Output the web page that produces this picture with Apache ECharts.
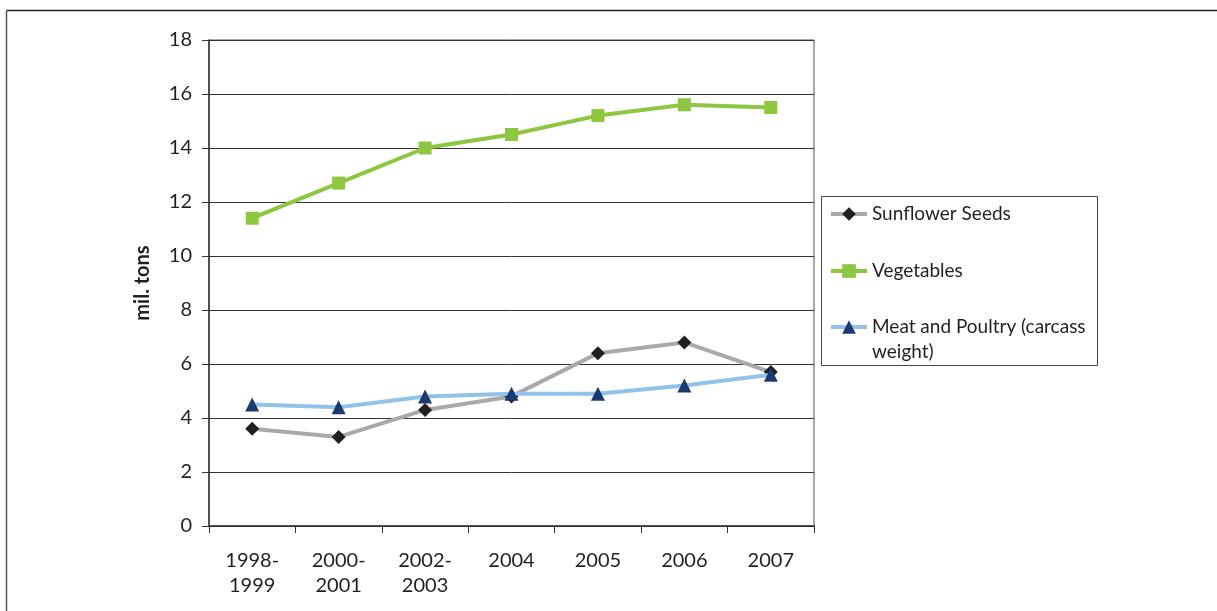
<!DOCTYPE html>
<html>
<head>
<meta charset="utf-8">
<script src="https://cdn.jsdelivr.net/npm/echarts@6/dist/echarts.min.js"></script>
<style>
html,body{margin:0;padding:0;background:#fff;}
#chart{width:1217px;height:611px;}
</style>
</head>
<body>
<div id="chart"></div>
<script>
var categories = ['1998-\n1999', '2000-\n2001', '2002-\n2003', '2004', '2005', '2006', '2007'];
var sunflowerSeeds = [3.6, 3.3, 4.3, 4.8, 6.4, 6.8, 5.7];
var vegetables = [11.4, 12.7, 14.0, 14.5, 15.2, 15.6, 15.5];
var meatPoultry = [4.5, 4.4, 4.8, 4.9, 4.9, 5.2, 5.6];
var yTicks = [0, 2, 4, 6, 8, 10, 12, 14, 16, 18];

var FONT = 'Lato';
var TXT = '#231F20';
var chart = echarts.init(document.getElementById('chart'), null, {renderer: 'canvas'});

function legendCfg(name, top) {
  return {
    data: [name], left: 829, top: top, orient: 'vertical', padding: 0,
    itemWidth: 36, itemHeight: 17, itemGap: 0, selectedMode: false,
    lineStyle: {width: 4},
    textStyle: {fontFamily: FONT, fontSize: 19, color: TXT, lineHeight: 25},
    formatter: function (n) { return n === 'Meat and Poultry (carcass weight)' ? ' \nMeat and Poultry (carcass\nweight)' : n; }
  };
}

chart.setOption({
  animation: false,
  backgroundColor: '#fff',
  grid: {left: 209, right: 403, top: 40, bottom: 85, show: true, borderColor: '#555', borderWidth: 1, backgroundColor: 'transparent'},
  graphic: [
    {type: 'line', shape: {x1: 6.5, y1: 10.5, x2: 1217, y2: 10.5}, style: {stroke: '#222', lineWidth: 1.5}},
    {type: 'line', shape: {x1: 6.5, y1: 10.5, x2: 6.5, y2: 611}, style: {stroke: '#555', lineWidth: 1.5}},
    {type: 'rect', shape: {x: 821.5, y: 196.5, width: 276, height: 169}, style: {fill: 'none', stroke: '#444', lineWidth: 1}}
  ],
  legend: [
    legendCfg('Sunflower Seeds', 201.5),
    legendCfg('Vegetables', 258.5),
    legendCfg('Meat and Poultry (carcass weight)', 289.5)
  ],
  xAxis: {
    type: 'category', data: categories, boundaryGap: true,
    axisLine: {lineStyle: {color: '#333', width: 1.5}},
    axisTick: {show: true, length: 7, interval: 0, lineStyle: {color: '#333'}},
    axisLabel: {interval: 0, margin: 22, fontFamily: FONT, fontSize: 20, color: TXT, lineHeight: 25},
    splitLine: {show: false}
  },
  yAxis: {
    type: 'value', min: 0, max: 18, interval: 2,
    name: 'mil. tons', nameLocation: 'middle', nameRotate: 90, nameGap: 56,
    nameTextStyle: {fontFamily: FONT, fontSize: 20, fontWeight: 'bold', color: TXT},
    axisLine: {show: true, lineStyle: {color: '#333', width: 1.5}},
    axisTick: {show: true, length: 7, lineStyle: {color: '#333'}},
    axisLabel: {margin: 17, fontFamily: FONT, fontSize: 20, color: TXT,
      formatter: function (v) { return yTicks.indexOf(v) >= 0 ? String(v) : ''; }},
    splitLine: {show: true, lineStyle: {color: '#333', width: 1}}
  },
  series: [
    {name: 'Sunflower Seeds', type: 'line', data: sunflowerSeeds,
     lineStyle: {color: '#A7A9AC', width: 4}, itemStyle: {color: '#231F20'},
     symbol: 'diamond', symbolSize: 14, showAllSymbol: true, z: 3},
    {name: 'Vegetables', type: 'line', data: vegetables,
     lineStyle: {color: '#8DC63F', width: 4}, itemStyle: {color: '#8DC63F'},
     symbol: 'rect', symbolSize: 13, showAllSymbol: true, z: 2},
    {name: 'Meat and Poultry (carcass weight)', type: 'line', data: meatPoultry,
     lineStyle: {color: '#92C2EA', width: 4}, itemStyle: {color: '#1B3A72'},
     symbol: 'triangle', symbolSize: 14, showAllSymbol: true, z: 4}
  ]
});
</script>
</body>
</html>
